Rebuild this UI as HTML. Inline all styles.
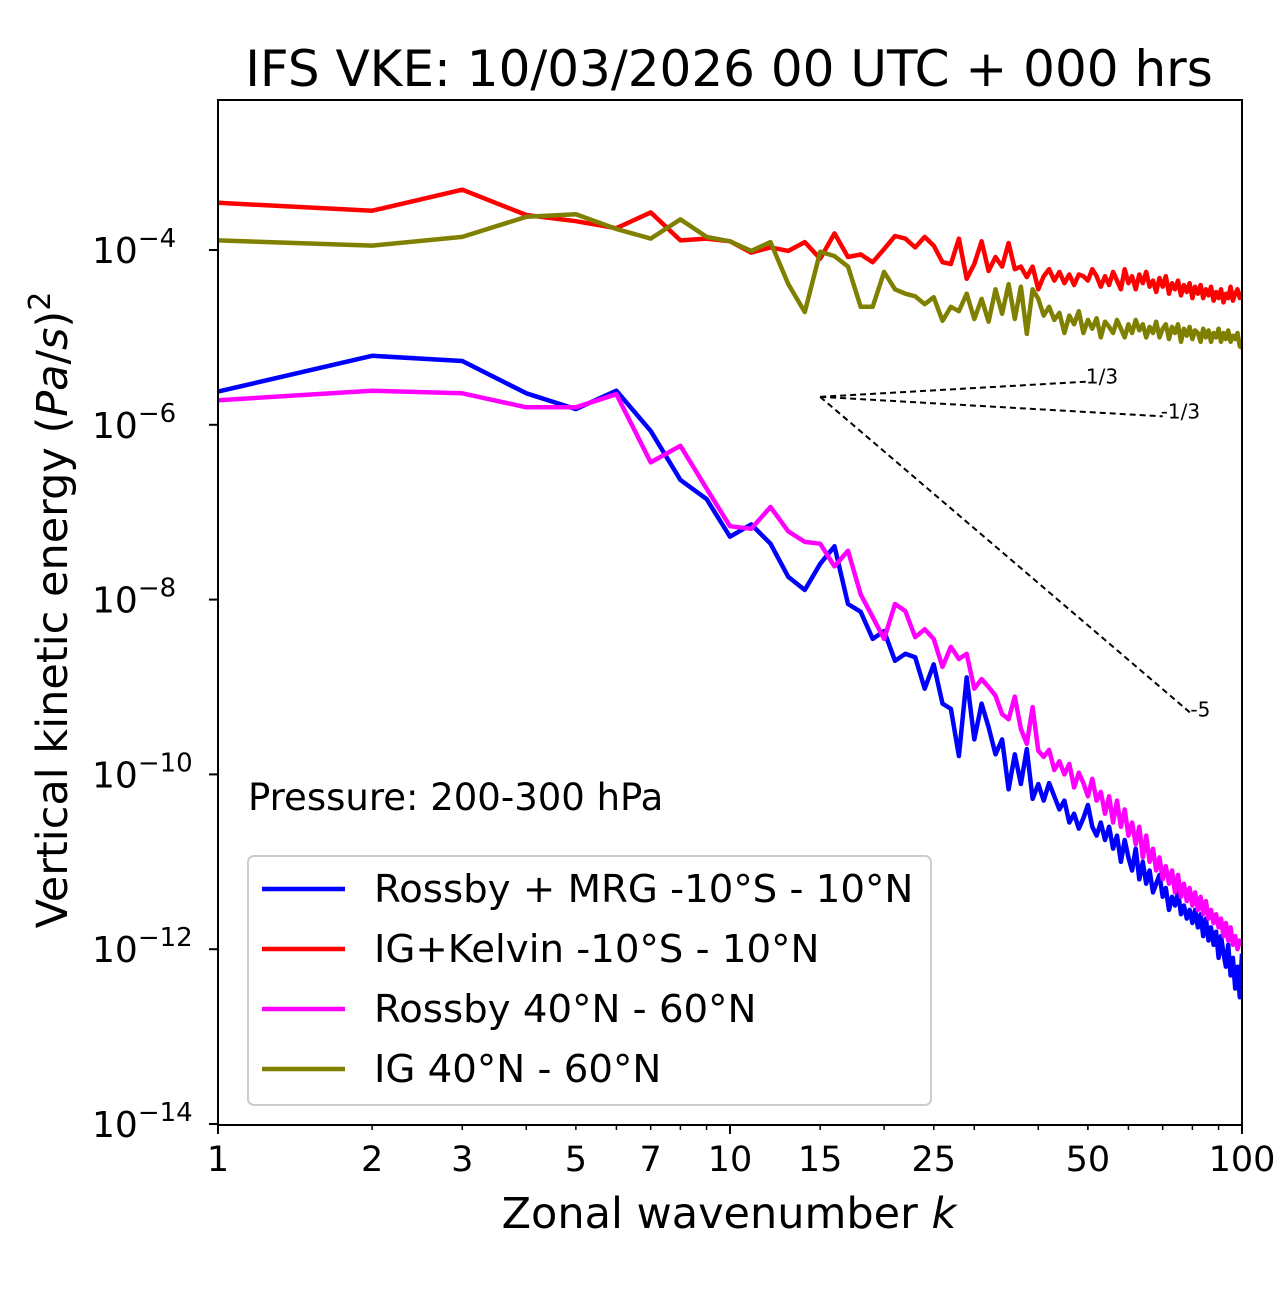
<!DOCTYPE html>
<html><head><meta charset="utf-8"><style>
body{margin:0;background:#fff}
svg text{font-family:"DejaVu Sans","Liberation Sans",sans-serif;fill:#000}
</style></head><body>
<svg id="chart" width="1280" height="1288" viewBox="0 0 1280 1288" xmlns="http://www.w3.org/2000/svg">
<rect width="1280" height="1288" fill="#fff"/>
<text x="729" y="86" font-size="50" text-anchor="middle">IFS VKE: 10/03/2026 00 UTC + 000 hrs</text>
<g id="plot"></g>
</svg>
<script>
const xTickValues=[1,2,3,5,7,10,15,25,50,100];
const yTickExponents=[-4,-6,-8,-10,-12,-14];
const seriesNames=["Rossby + MRG -10°S - 10°N","IG+Kelvin -10°S - 10°N","Rossby 40°N - 60°N","IG 40°N - 60°N"];
const seriesColors=["#0000ff","#ff0000","#ff00ff","#808000"];
const redLog=[-3.46,-3.55,-3.31,-3.60,-3.67,-3.75,-3.57,-3.89,-3.87,-3.90,-4.03,-3.97,-4.01,-3.91,-4.10,-3.81,-4.08,-4.05,-4.14,-3.99,-3.84,-3.87,-3.97,-3.85,-3.95,-4.14,-4.16,-3.87,-4.33,-4.16,-3.90,-4.24,-4.08,-4.19,-3.92,-4.22,-4.19,-4.31,-4.19,-4.45,
-4.3,-4.22,-4.35,-4.25,-4.38,-4.28,-4.4,-4.28,-4.3,-4.35,-4.22,-4.3,-4.42,-4.3,-4.4,-4.25,-4.35,-4.45,-4.22,-4.38,-4.3,-4.45,-4.28,-4.38,-4.25,-4.42,-4.35,-4.48,-4.32,-4.42,-4.3,-4.5,-4.38,-4.45,-4.35,-4.52,-4.4,-4.48,-4.38,-4.55,-4.42,-4.5,-4.4,-4.55,-4.45,-4.52,-4.42,-4.58,-4.48,-4.55,-4.45,-4.6,-4.5,-4.55,-4.42,-4.58,-4.5,-4.45,-4.55,-4.48];
const oliveLog=[-3.89,-3.95,-3.85,-3.62,-3.59,-3.76,-3.87,-3.65,-3.85,-3.90,-4.01,-3.91,-4.39,-4.71,-4.02,-4.07,-4.19,-4.65,-4.65,-4.25,-4.45,-4.5,-4.53,-4.62,-4.54,-4.81,-4.65,-4.70,-4.5,-4.79,-4.56,-4.82,-4.45,-4.73,-4.39,-4.79,-4.42,-4.96,-4.45,-4.56,
-4.75,-4.65,-4.8,-4.72,-4.95,-4.75,-4.85,-4.7,-4.95,-4.8,-4.9,-4.78,-5.0,-4.82,-4.88,-4.95,-4.8,-4.9,-5.0,-4.85,-4.95,-4.8,-4.92,-4.85,-5.0,-4.88,-4.95,-4.82,-5.0,-4.9,-4.85,-5.02,-4.88,-4.95,-4.85,-5.05,-4.9,-4.98,-4.88,-5.02,-4.92,-4.95,-5.05,-4.9,-5.0,-4.92,-5.05,-4.95,-5.0,-4.9,-5.05,-4.95,-5.02,-4.92,-5.05,-4.98,-5.02,-4.95,-5.1,-5.12];
const blueLog=[-5.62,-5.21,-5.27,-5.64,-5.82,-5.61,-6.07,-6.63,-6.85,-7.28,-7.14,-7.36,-7.74,-7.89,-7.59,-7.39,-8.05,-8.14,-8.45,-8.36,-8.70,-8.62,-8.66,-9.02,-8.74,-9.19,-9.25,-9.79,-8.89,-9.6,-9.19,-9.46,-9.77,-9.6,-10.17,-9.77,-10.11,-9.71,-10.28,-10.11,
-10.3,-10.1,-10.25,-10.4,-10.3,-10.55,-10.45,-10.62,-10.5,-10.35,-10.6,-10.7,-10.55,-10.75,-10.6,-10.85,-10.7,-11.0,-10.75,-10.95,-11.1,-10.85,-11.2,-11.0,-11.25,-11.1,-11.35,-11.25,-11.15,-11.4,-11.3,-11.55,-11.4,-11.5,-11.35,-11.6,-11.5,-11.65,-11.55,-11.7,-11.55,-11.75,-11.6,-11.85,-11.65,-11.9,-11.75,-11.95,-11.8,-12.1,-11.85,-12.05,-12.2,-11.95,-12.3,-12.1,-12.45,-12.2,-12.55,-12.05];
const magentaLog=[-5.72,-5.61,-5.64,-5.80,-5.80,-5.65,-6.43,-6.24,-6.73,-7.16,-7.19,-6.94,-7.22,-7.34,-7.36,-7.62,-7.44,-7.94,-8.2,-8.45,-8.05,-8.13,-8.43,-8.34,-8.45,-8.77,-8.54,-8.68,-8.62,-9.02,-8.91,-9.0,-9.1,-9.31,-9.37,-9.11,-9.48,-9.65,-9.23,-9.73,
-9.8,-9.72,-9.95,-9.85,-10.0,-9.88,-10.15,-9.98,-10.1,-10.25,-10.05,-10.3,-10.2,-10.45,-10.25,-10.55,-10.3,-10.6,-10.4,-10.7,-10.55,-10.8,-10.6,-10.95,-10.7,-11.0,-10.85,-11.1,-10.95,-11.2,-11.05,-11.25,-11.1,-11.35,-11.15,-11.4,-11.25,-11.45,-11.3,-11.5,-11.35,-11.55,-11.4,-11.6,-11.45,-11.65,-11.55,-11.7,-11.6,-11.75,-11.65,-11.85,-11.7,-11.9,-11.75,-11.95,-11.85,-12.0,-11.9,-11.95];
const refSlopes=[1/3,-1/3,-5];
const refLabels=["1/3","-1/3","-5"];
const refEndK=[50,70,80];
const refStart=[15,-5.68];

const L=218,R=1242,T=100,B=1125;
const X=k=>L+Math.log10(k)/2*(R-L);
const Y=e=>250+(-4-e)*87.4;
const NS="http://www.w3.org/2000/svg";
const g=document.getElementById('plot');
function mk(tag,attrs,parent){const el=document.createElementNS(NS,tag);for(const a in attrs)el.setAttribute(a,attrs[a]);(parent||g).appendChild(el);return el;}

const clip=mk('clipPath',{id:'pc'});mk('rect',{x:L,y:T,width:R-L,height:B-T},clip);

const allSeries=[blueLog,redLog,magentaLog,oliveLog];
const drawOrder=[1,3,0,2];
drawOrder.forEach(i=>{
  const d=allSeries[i].map((v,j)=>(j?'L':'M')+X(j+1).toFixed(1)+','+Y(v).toFixed(1)).join('');
  const p=mk('path',{d:d,fill:'none',stroke:seriesColors[i],'stroke-width':4.5,'stroke-linejoin':'round','clip-path':'url(#pc)'});
  
  
});

refSlopes.forEach((s,i)=>{
  const e2=refStart[1]+s*Math.log10(refEndK[i]/refStart[0]);
  const ln=mk('line',{x1:X(refStart[0]),y1:Y(refStart[1]),x2:X(refEndK[i]),y2:Y(e2),stroke:'#000','stroke-width':2,'stroke-dasharray':'6,4'});
  
  
  const t=mk('text',{x:X(refEndK[i])-2,y:Y(e2)+2,'font-size':20});
  t.textContent=refLabels[i];
  
  
});

const fr=mk('rect',{x:L,y:T,width:R-L,height:B-T,fill:'none',stroke:'#000','stroke-width':2});



for(let k=1;k<=100;k++){
  const maj=(k<10)||(k%10===0);
  if(!maj) continue;
  const isDec=(k===1||k===10||k===100);
  mk('line',{x1:X(k),x2:X(k),y1:B,y2:B+(isDec?9:5),stroke:'#000','stroke-width':isDec?2:1.5});
}
for(const k of [15,25,50]) mk('line',{x1:X(k),x2:X(k),y1:B,y2:B+5,stroke:'#000','stroke-width':1.5});
xTickValues.forEach(k=>{
  const t=mk('text',{x:X(k),y:B+46,'font-size':35,'text-anchor':'middle'});
  t.textContent=k;
  
  
});
yTickExponents.forEach(e=>{
  mk('line',{x1:L-9,x2:L,y1:Y(e),y2:Y(e),stroke:'#000','stroke-width':2});
  const t=mk('text',{x:L-126,y:Y(e)+13,'font-size':36});
  t.textContent='10';
  const s=mk('tspan',{'font-size':26,dy:-16},t);s.textContent='−'+(-e);
  
  
});

const xl=mk('text',{x:729,y:1228,'font-size':43,'text-anchor':'middle'});
xl.innerHTML='Zonal wavenumber <tspan font-style="italic">k</tspan>';


const yl=mk('text',{x:0,y:0,'font-size':43,'text-anchor':'middle',transform:'translate(67,610) rotate(-90)'});
yl.innerHTML='Vertical kinetic energy (<tspan font-style="italic">Pa</tspan>/<tspan font-style="italic">s</tspan>)<tspan font-size="30" dy="-17">2</tspan>';



const pr=mk('text',{x:248,y:810,'font-size':37});
pr.textContent='Pressure: 200-300 hPa';



const lg=mk('g',{});


mk('rect',{x:248,y:856,width:683,height:249,rx:6,fill:'#fff','fill-opacity':0.8,stroke:'#ccc','stroke-width':2},lg);
seriesNames.forEach((n,i)=>{
  const yy=889+i*60;
  const ln=mk('line',{x1:262,x2:345,y1:yy,y2:yy,stroke:seriesColors[i],'stroke-width':4.5},lg);
  
  
  const t=mk('text',{x:374,y:yy+13,'font-size':38.7},lg);
  t.textContent=n;
  
  
});
</script>
</body></html>
